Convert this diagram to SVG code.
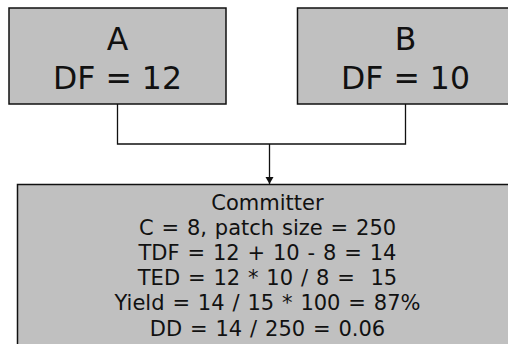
<svg xmlns="http://www.w3.org/2000/svg" width="508" height="344" viewBox="0 0 508 344">
  <style>
    .box { fill: #c0c0c0; stroke: #111; stroke-width: 1.5; }
    .big { font-family: "DejaVu Sans", Verdana, sans-serif; font-size: 31.5px; fill: #111; text-anchor: middle; }
    .small { font-family: "DejaVu Sans", Verdana, sans-serif; font-size: 21px; word-spacing: 1.2px; fill: #111; text-anchor: middle; }
    .wire { fill: none; stroke: #111; stroke-width: 1.3; }
  </style>
  <defs>
    <marker id="arrow" markerUnits="userSpaceOnUse" markerWidth="9" markerHeight="9" refX="7" refY="4" orient="auto">
      <path d="M0,0 L7,4 L0,8 Z" fill="#111"/>
    </marker>
  </defs>
  <rect width="508" height="344" fill="#fff"/>

  <g id="connectors">
    <polyline class="wire" points="117.5,104 117.5,144 405.5,144 405.5,104"/>
    <line class="wire" x1="269.5" y1="144" x2="269.5" y2="184" marker-end="url(#arrow)"/>
  </g>

  <g id="nodeA">
    <rect class="box" x="9" y="8" width="217" height="96"/>
    <text class="big" x="117.5" y="50">A</text>
    <text class="big" x="117.5" y="89">DF = 12</text>
  </g>

  <g id="nodeB">
    <rect class="box" x="297.5" y="8" width="217" height="96"/>
    <text class="big" x="405.5" y="50">B</text>
    <text class="big" x="405.5" y="89">DF = 10</text>
  </g>

  <g id="committer">
    <rect class="box" x="17.5" y="184.5" width="500" height="170"/>
    <text class="small" x="267.5" y="209.5">Committer</text>
    <text class="small" x="267.5" y="234.7">C = 8, patch size = 250</text>
    <text class="small" x="267.5" y="259.9">TDF = 12 + 10 - 8 = 14</text>
    <text class="small" x="267.5" y="285.1" xml:space="preserve">TED = 12 * 10 / 8 =  15</text>
    <text class="small" x="267.5" y="310.3">Yield = 14 / 15 * 100 = 87%</text>
    <text class="small" x="267.5" y="335.5">DD = 14 / 250 = 0.06</text>
  </g>
</svg>
